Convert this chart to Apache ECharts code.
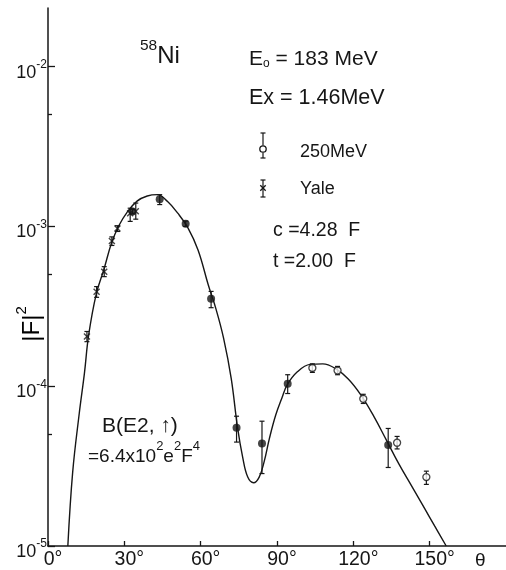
<!DOCTYPE html>
<html><head><meta charset="utf-8">
<script src="https://cdn.jsdelivr.net/npm/echarts@6/dist/echarts.min.js"></script>
<style>html,body{margin:0;padding:0;background:#fff}#c{width:506px;height:570px}</style>
</head><body><div id="c"></div>
<script>
// ---- data ----
const xTicks = [0, 30, 60, 90, 120, 150];
const yMajor = [1e-5, 1e-4, 1e-3, 1e-2];
const yMinor = [5e-5, 5e-4, 5e-3];

const curveTheta = [7.8, 9.7, 12.3, 14.3, 16.0, 19.0, 22.0, 25.0, 28.0, 31.0, 35.0, 39.0, 43.0, 47.0, 51.0, 55.0, 59.0, 63.0, 66.0, 69.0, 72.0, 74.5, 76.5, 78.5, 80.8, 83.0, 85.0, 87.0, 89.5, 92.0, 94.0, 98.0, 103.0, 108.0, 113.0, 118.0, 123.0, 128.0, 133.0, 138.0, 143.0, 148.0, 152.0, 156.5];
const curveVal = [1.0e-5, 2.9e-5, 6.8e-5, 1.2e-4, 2.1e-4, 3.8e-4, 5.4e-4, 7.9e-4, 1.02e-3, 1.22e-3, 1.44e-3, 1.55e-3, 1.58e-3, 1.43e-3, 1.21e-3, 9.8e-4, 7.1e-4, 4.3e-4, 3.05e-4, 2.0e-4, 1.12e-4, 5.5e-5, 3.6e-5, 2.7e-5, 2.49e-5, 2.7e-5, 3.4e-5, 4.7e-5, 6.6e-5, 8.5e-5, 1.02e-4, 1.23e-4, 1.37e-4, 1.38e-4, 1.29e-4, 1.11e-4, 8.8e-5, 6.5e-5, 4.6e-5, 3.24e-5, 2.36e-5, 1.72e-5, 1.33e-5, 1.0e-5];

const yaleTheta = [15.3, 19.1, 22.1, 25.1, 27.3, 32.3, 34.5];
const yaleVal = [2.05e-4, 3.9e-4, 5.2e-4, 8.1e-4, 9.7e-4, 1.21e-3, 1.245e-3];
const yaleLo = [1.9e-4, 3.6e-4, 4.85e-4, 7.6e-4, 9.3e-4, 1.075e-3, 1.11e-3];
const yaleHi = [2.2e-4, 4.2e-4, 5.6e-4, 8.6e-4, 1.01e-3, 1.30e-3, 1.40e-3];

const filledTheta = [33.2, 43.9, 54.1, 64.1, 74.1, 84.1, 94.2, 133.7];
const filledVal = [1.24e-3, 1.48e-3, 1.04e-3, 3.52e-4, 5.5e-5, 4.38e-5, 1.035e-4, 4.28e-5];
const filledLo = [1.2e-3, 1.37e-3, 1.0e-3, 3.1e-4, 4.47e-5, 2.84e-5, 9.0e-5, 3.1e-5];
const filledHi = [1.28e-3, 1.58e-3, 1.08e-3, 3.92e-4, 6.49e-5, 6.04e-5, 1.18e-4, 5.44e-5];

const openTheta = [103.9, 113.8, 123.9, 137.2, 148.7];
const openVal = [1.30e-4, 1.253e-4, 8.34e-5, 4.43e-5, 2.70e-5];
const openLo = [1.22e-4, 1.18e-4, 7.8e-5, 4.05e-5, 2.43e-5];
const openHi = [1.38e-4, 1.33e-4, 8.9e-5, 4.85e-5, 2.94e-5];

// ---- chart ----
const FONT = 'Liberation Sans';
const INK = '#161616';
const zip2 = (a, b) => a.map((v, i) => [v, b[i]]);
const zip3 = (a, b, c) => a.map((v, i) => [v, b[i], c[i]]);

const chart = echarts.init(document.getElementById('c'), null, {renderer: 'canvas'});

function errRender(params, api) {
  const x = api.value(0);
  const p1 = api.coord([x, api.value(1)]);
  const p2 = api.coord([x, api.value(2)]);
  const w = 2.5;
  const st = {stroke: INK, lineWidth: 1.2};
  return {type: 'group', children: [
    {type: 'line', shape: {x1: p1[0], y1: p1[1], x2: p2[0], y2: p2[1]}, style: st},
    {type: 'line', shape: {x1: p1[0] - w, y1: p1[1], x2: p1[0] + w, y2: p1[1]}, style: st},
    {type: 'line', shape: {x1: p2[0] - w, y1: p2[1], x2: p2[0] + w, y2: p2[1]}, style: st}
  ]};
}

const yMax = Math.pow(10, -5 + 538.7 / 160);

const richLabel = {
  b: {fontFamily: FONT, fontSize: 18, color: INK, lineHeight: 30, verticalAlign: 'bottom'},
  s: {fontFamily: FONT, fontSize: 12, color: INK, verticalAlign: 'middle', padding: [0, 0, 4, 0]}
};

const txt = (x, y, text, size, extra) => Object.assign({
  type: 'text', x: x, y: y,
  style: Object.assign({text: text, fontFamily: FONT, fontSize: size, fill: INK, align: 'left', verticalAlign: 'middle'}, extra || {})
});

const option = {
  animation: false,
  backgroundColor: '#fff',
  grid: {left: 48, top: 8, width: 459, height: 538.7},
  xAxis: {
    type: 'value', min: 0, max: 180,
    axisLine: {lineStyle: {color: INK, width: 1.6}},
    axisTick: {inside: true, length: 5, customValues: xTicks, lineStyle: {color: INK, width: 1.3}},
    axisLabel: {customValues: xTicks, formatter: v => v + '°', fontFamily: FONT, fontSize: 19.5, color: INK, margin: 4, padding: [0, 0, 0, 10]},
    splitLine: {show: false}
  },
  yAxis: [{
    type: 'log', logBase: 10, min: 1e-5, max: yMax,
    axisLine: {show: true, lineStyle: {color: INK, width: 1.5}},
    axisTick: {show: true, inside: true, length: 7, customValues: yMajor, lineStyle: {color: INK, width: 1.3}},
    axisLabel: {customValues: yMajor, margin: 1, formatter: v => '{b|10}{s|' + Math.round(Math.log10(v)) + '}', rich: richLabel},
    splitLine: {show: false}
  }, {
    type: 'log', logBase: 10, min: 1e-5, max: yMax, position: 'left', offset: 0,
    axisLine: {show: false},
    axisTick: {show: true, inside: true, length: 4, customValues: yMinor, lineStyle: {color: INK, width: 1.3}},
    axisLabel: {show: false},
    splitLine: {show: false}
  }],
  series: [
    {type: 'line', name: 'fit', data: zip2(curveTheta, curveVal), smooth: 0.4, showSymbol: false, symbol: 'none',
     lineStyle: {color: INK, width: 1.4}, z: 1},
    {type: 'custom', name: 'err-yale', renderItem: errRender, data: zip3(yaleTheta, yaleLo, yaleHi), encode: {x: 0, y: [1, 2]}, z: 3},
    {type: 'custom', name: 'err-filled', renderItem: errRender, data: zip3(filledTheta, filledLo, filledHi), encode: {x: 0, y: [1, 2]}, z: 3},
    {type: 'custom', name: 'err-250', renderItem: errRender, data: zip3(openTheta, openLo, openHi), encode: {x: 0, y: [1, 2]}, z: 3},
    {type: 'scatter', name: 'Yale', data: zip2(yaleTheta, yaleVal), symbol: 'path://M0,0L10,10M10,0L0,10', symbolSize: 6,
     itemStyle: {color: 'none', borderColor: INK, borderWidth: 1.4}, z: 4},
    {type: 'scatter', name: 'this work', data: zip2(filledTheta, filledVal), symbol: 'circle', symbolSize: 8,
     itemStyle: {color: INK}, z: 4},
    {type: 'scatter', name: '250MeV', data: zip2(openTheta, openVal), symbol: 'circle', symbolSize: 7,
     itemStyle: {color: '#fff', borderColor: INK, borderWidth: 1.3}, z: 4}
  ],
  graphic: [
    // 58Ni
    txt(140, 53, '{s|58}{b|Ni}', 23, {rich: {
      s: {fontFamily: FONT, fontSize: 15.5, color: INK, verticalAlign: 'top'},
      b: {fontFamily: FONT, fontSize: 24, color: INK, lineHeight: 30, verticalAlign: 'bottom'}}}),
    // E0
    txt(249, 58, '{b|E}{o|o}{b| = 183 MeV}', 21, {rich: {
      b: {fontFamily: FONT, fontSize: 21, color: INK, lineHeight: 24, verticalAlign: 'bottom'},
      o: {fontFamily: FONT, fontSize: 12, color: INK, verticalAlign: 'bottom'}}}),
    txt(249, 98, 'Ex = 1.46MeV', 21.5),
    // legend symbols
    {type: 'group', children: [
      {type: 'line', shape: {x1: 263, y1: 133, x2: 263, y2: 145.5}, style: {stroke: INK, lineWidth: 1.2}},
      {type: 'line', shape: {x1: 263, y1: 152.5, x2: 263, y2: 158}, style: {stroke: INK, lineWidth: 1.2}},
      {type: 'line', shape: {x1: 260.5, y1: 133, x2: 265.5, y2: 133}, style: {stroke: INK, lineWidth: 1.2}},
      {type: 'line', shape: {x1: 260.5, y1: 158, x2: 265.5, y2: 158}, style: {stroke: INK, lineWidth: 1.2}},
      {type: 'circle', shape: {cx: 263, cy: 149, r: 3.2}, style: {fill: '#fff', stroke: INK, lineWidth: 1.3}},
      {type: 'line', shape: {x1: 263, y1: 180, x2: 263, y2: 197}, style: {stroke: INK, lineWidth: 1.2}},
      {type: 'line', shape: {x1: 260.5, y1: 180, x2: 265.5, y2: 180}, style: {stroke: INK, lineWidth: 1.2}},
      {type: 'line', shape: {x1: 260.5, y1: 197, x2: 265.5, y2: 197}, style: {stroke: INK, lineWidth: 1.2}},
      {type: 'line', shape: {x1: 260.3, y1: 185.3, x2: 265.7, y2: 190.7}, style: {stroke: INK, lineWidth: 1.3}},
      {type: 'line', shape: {x1: 265.7, y1: 185.3, x2: 260.3, y2: 190.7}, style: {stroke: INK, lineWidth: 1.3}}
    ]},
    txt(300, 152, '250MeV', 18),
    txt(300, 189, 'Yale', 18),
    txt(273, 231, 'c =4.28  F', 19.5),
    txt(273, 262, 't =2.00  F', 19.5),
    txt(102, 426, 'B(E2, \u2191)', 21),
    txt(88, 453, '{b|=6.4x10}{s|2}{b|e}{s|2}{b|F}{s|4}', 19, {rich: {
      b: {fontFamily: FONT, fontSize: 19, color: INK, lineHeight: 26, verticalAlign: 'bottom'},
      s: {fontFamily: FONT, fontSize: 13, color: INK, verticalAlign: 'top'}}}),
    txt(475, 561, '\u03b8', 19),
    // y-axis title |F|^2
    {type: 'text', x: 29, y: 324, rotation: Math.PI / 2,
     style: {text: '{b||F|}{s|2}', align: 'center', verticalAlign: 'middle', rich: {
       b: {fontFamily: FONT, fontSize: 24, color: INK, lineHeight: 30, verticalAlign: 'bottom'},
       s: {fontFamily: FONT, fontSize: 15, color: INK, verticalAlign: 'top'}}}}
  ]
};
chart.setOption(option);
</script>
</body></html>
